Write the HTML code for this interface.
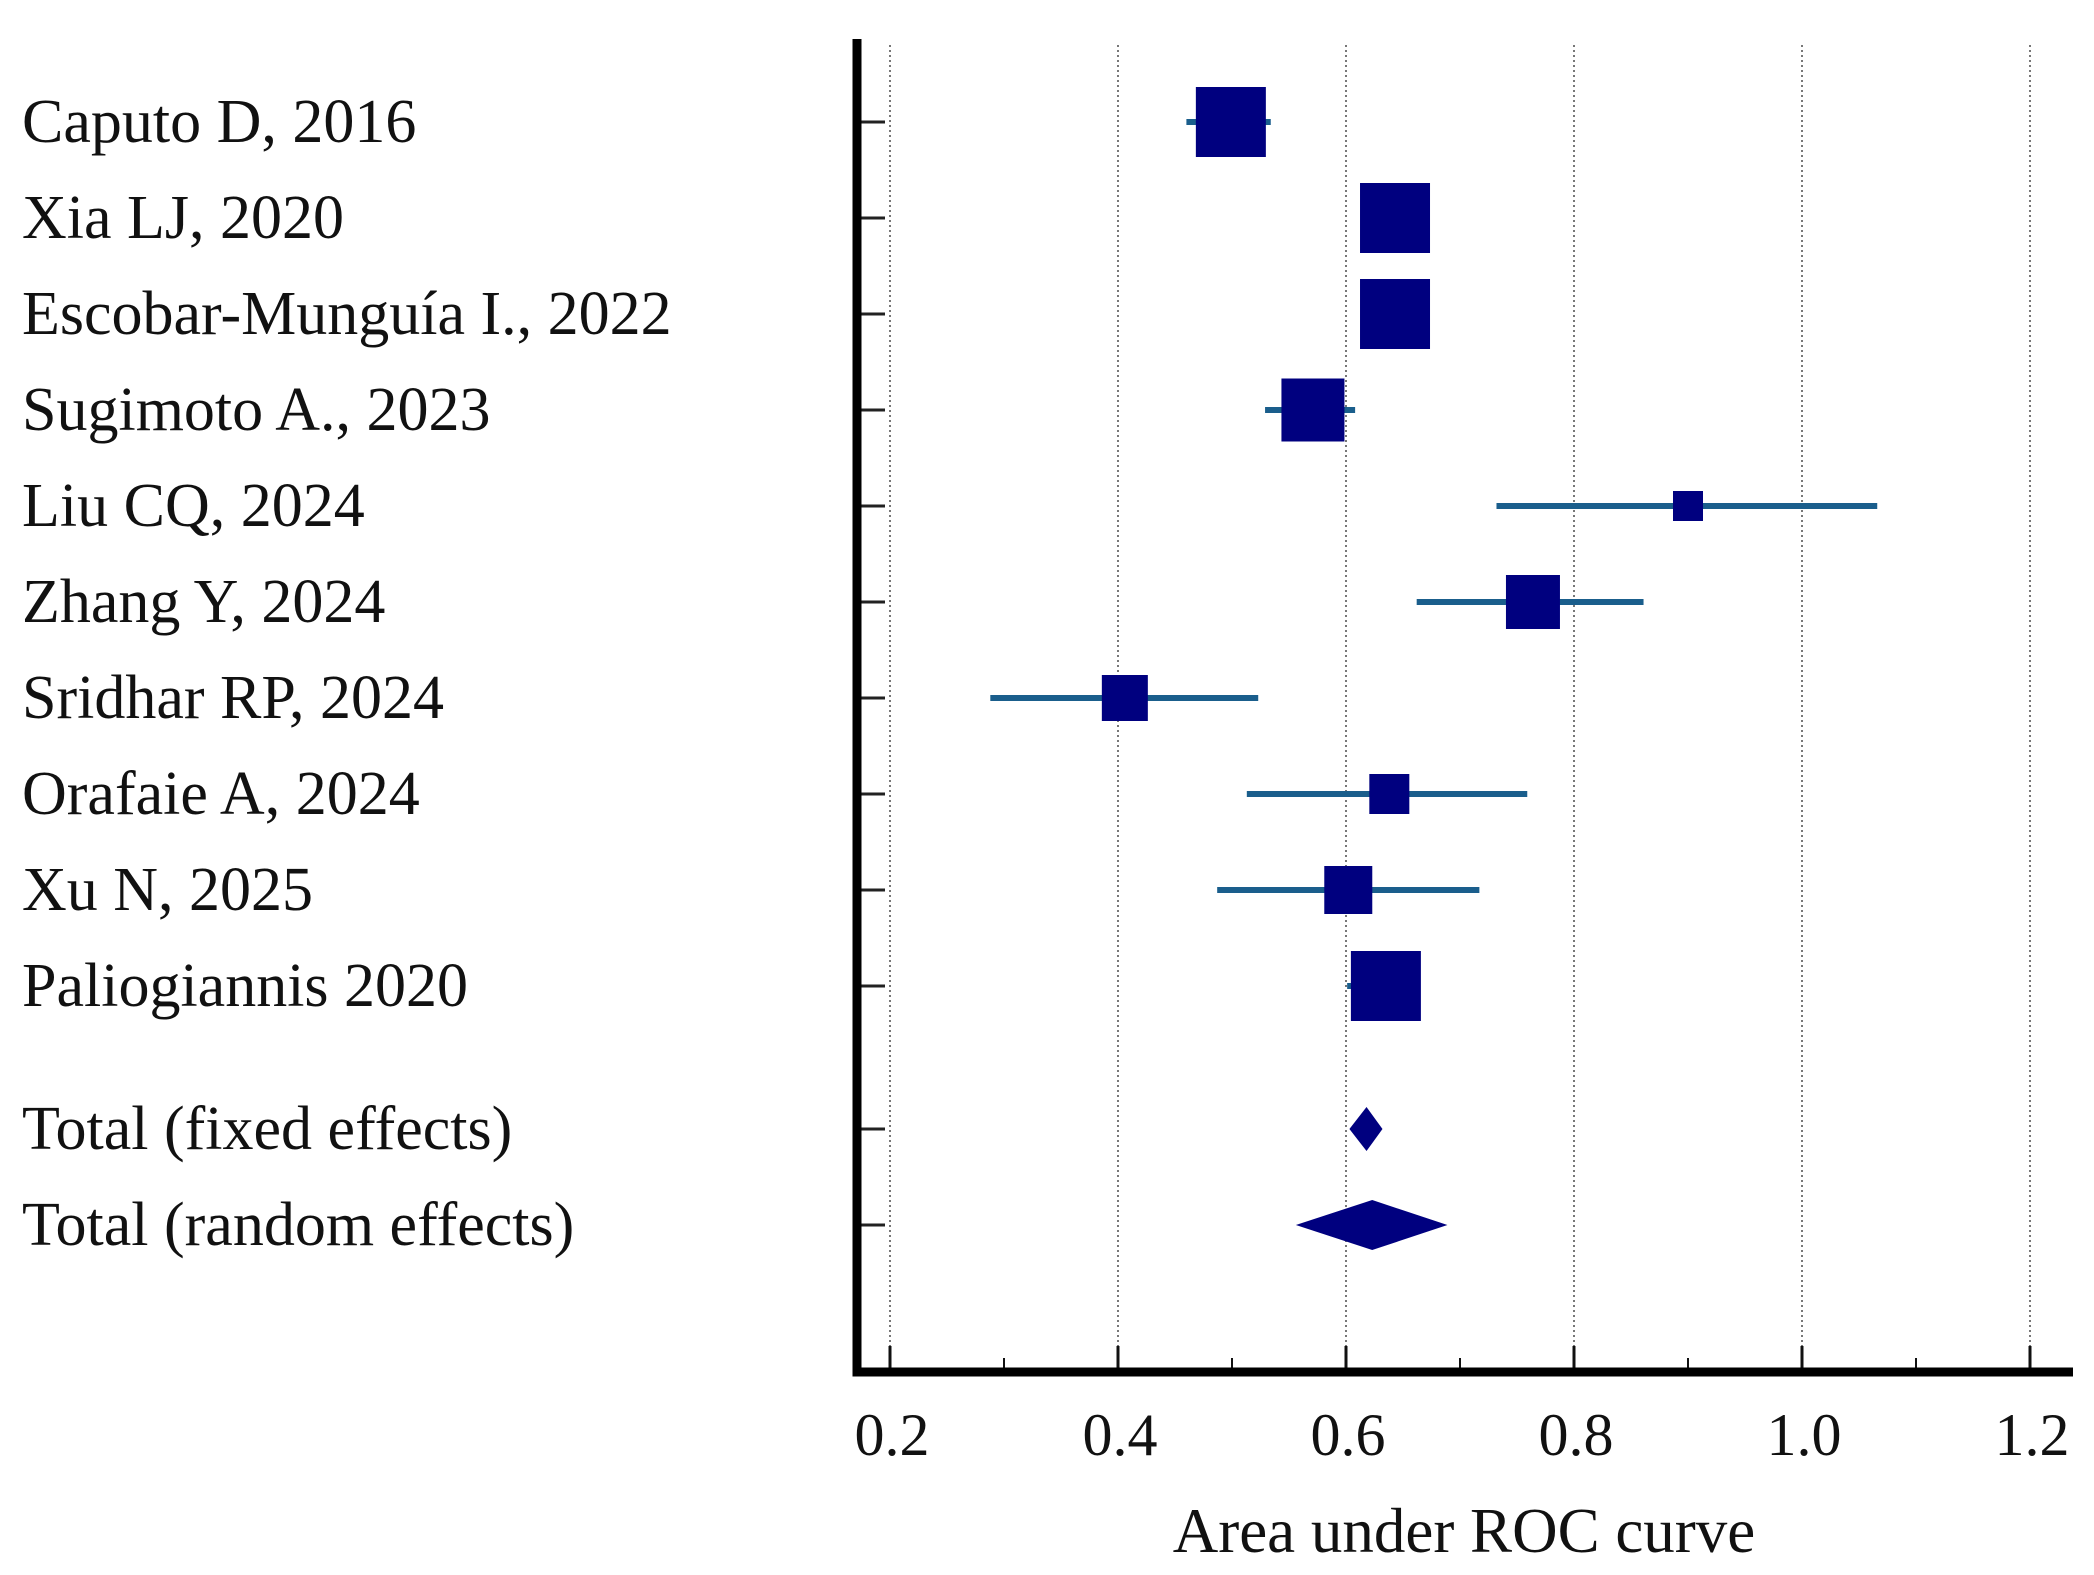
<!DOCTYPE html>
<html><head><meta charset="utf-8"><style>
html,body{margin:0;padding:0;background:#fff;}
svg{display:block;}
text{font-family:"Liberation Serif",serif;fill:#111;}
</style></head><body>
<svg id="chart" width="2094" height="1575" viewBox="0 0 2094 1575" xmlns="http://www.w3.org/2000/svg">
<g id="grid"></g>
<g id="marks"></g>
<g id="labels"></g>
<g id="axes"></g>
</svg>
<script>
const studies = ["Caputo D, 2016","Xia LJ, 2020","Escobar-Munguía I., 2022","Sugimoto A., 2023","Liu CQ, 2024","Zhang Y, 2024","Sridhar RP, 2024","Orafaie A, 2024","Xu N, 2025","Paliogiannis 2020"];
const auc = [0.499,0.643,0.643,0.571,0.900,0.764,0.406,0.638,0.602,0.635];
const ciLow = [0.460,0.643,0.643,0.529,0.732,0.662,0.288,0.513,0.487,0.601];
const ciHigh = [0.534,0.643,0.643,0.608,1.066,0.861,0.523,0.759,0.717,0.635];
const weights = [70,70,70,63,30,54,46,40,48,70];
const totals = ["Total (fixed effects)","Total (random effects)"];
const totalEst = [0.618,0.623];
const totalLow = [0.603,0.556];
const totalHigh = [0.632,0.689];
const rowPos = [0,1,2,3,4,5,6,7,8,9,10.49,11.49];
const xTicks = [0.2,0.4,0.6,0.8,1.0,1.2];
const xTickLabels = ["0.2","0.4","0.6","0.8","1.0","1.2"];
const minorTicks = [0.3,0.5,0.7,0.9,1.1];

const NS="http://www.w3.org/2000/svg";
const x = v => 890 + (v-0.2)*1140;
const y = r => 122 + r*96.0;
function mk(tag, attrs, parent){const e=document.createElementNS(NS,tag);for(const k in attrs)e.setAttribute(k,attrs[k]);parent.appendChild(e);return e;}
const grid=document.getElementById('grid'),marks=document.getElementById('marks'),labels=document.getElementById('labels'),axes=document.getElementById('axes');
xTicks.forEach((t,i)=>{
  const g=mk('line',{x1:x(t),x2:x(t),y1:45,y2:1368,stroke:'#777','stroke-width':2,'stroke-dasharray':'2,3'},grid);
  
  
  const tk=mk('line',{x1:x(t),x2:x(t),y1:1346,y2:1368,stroke:'#111','stroke-width':3},axes);
  
  
  const tl=mk('text',{x:x(t)+2,y:1455,'font-size':60,'text-anchor':'middle'},axes);
  tl.textContent=xTickLabels[i];
  
  
});
minorTicks.forEach(t=>{
  const tk=mk('line',{x1:x(t),x2:x(t),y1:1358,y2:1368,stroke:'#111','stroke-width':2},axes);
  
  
});
const allLabels = studies.concat(totals);
allLabels.forEach((s,i)=>{
  const yy=y(rowPos[i]);
  const tk=mk('line',{x1:858,x2:885,y1:yy,y2:yy,stroke:'#222','stroke-width':3},axes);
  
  
  const t=mk('text',{x:22,y:yy+20,'font-size':62},labels);
  t.textContent=s;
  
  
});
studies.forEach((s,i)=>{
  const yy=y(rowPos[i]);
  const l=mk('line',{x1:x(ciLow[i]),x2:x(ciHigh[i]),y1:yy,y2:yy,stroke:'#1a5e8c','stroke-width':6},marks);
  
  
  const w=weights[i];
  const r=mk('rect',{x:x(auc[i])-w/2,y:yy-w/2,width:w,height:w,fill:'#00007f'},marks);
  
  
});
totals.forEach((s,i)=>{
  const yy=y(rowPos[10+i]);
  const h=i===0?22:25;
  const p=mk('polygon',{points:`${x(totalLow[i])},${yy} ${x(totalEst[i])},${yy-h} ${x(totalHigh[i])},${yy} ${x(totalEst[i])},${yy+h}`,fill:'#00007f'},marks);
  
  
});
const ax=mk('path',{d:'M857 39 V1372 H2073',fill:'none',stroke:'#000','stroke-width':9},axes);


const tt=mk('text',{x:1464,y:1552,'font-size':63,'text-anchor':'middle'},axes);
tt.textContent='Area under ROC curve';


</script>
</body></html>
